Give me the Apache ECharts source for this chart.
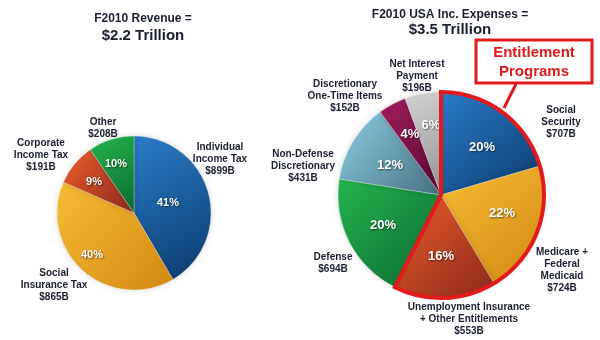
<!DOCTYPE html>
<html>
<head>
<meta charset="utf-8">
<script src="https://cdn.jsdelivr.net/npm/echarts@6/dist/echarts.min.js"></script>
<style>
html,body{margin:0;padding:0;background:#ffffff;}
#chart{width:600px;height:340px;}
</style>
</head>
<body>
<div id="chart"></div>
<script>
// ---- data ----
var revenueNames = ['Individual\nIncome Tax', 'Social\nInsurance Tax', 'Corporate\nIncome Tax', 'Other'];
var revenueValues = [899, 865, 191, 208];
var revenuePct = ['41%', '40%', '9%', '10%'];

var expenseNames = ['Social\nSecurity', 'Medicare +\nFederal\nMedicaid', 'Unemployment Insurance\n+ Other Entitlements', 'Defense', 'Non-Defense\nDiscretionary', 'Discretionary\nOne-Time Items', 'Net Interest\nPayment'];
var expenseValues = [707, 724, 553, 694, 431, 152, 196];
var expensePct = ['20%', '22%', '16%', '20%', '12%', '4%', '6%'];
var entitlementCount = 3; // first three expense slices are entitlement programs

var titles = ['F2010 Revenue =', '$2.2 Trillion', 'F2010 USA Inc. Expenses =', '$3.5 Trillion'];
var calloutText = 'Entitlement\nPrograms';

// ---- layout / styles ----
var leftCenter = [134, 213], leftR = 77;
var rightCenter = [441, 195], rightR = 103;
var revenueInnerPos = [[168, 203], [92, 255], [94, 182], [116, 164]];
var revenueOuterPos = [[220, 159], [54, 285], [41, 155], [103, 128]];
var expenseInnerPos = [[482, 147], [502, 213], [441, 256], [383, 225], [390, 165], [410, 134], [431, 125]];
var expenseOuterPos = [[561, 122], [562, 270], [469, 319], [333, 263], [303, 166], [345, 96], [417, 76]];

function grad(c1, c2) {
  return new echarts.graphic.LinearGradient(0, 0, 1, 1, [
    {offset: 0, color: c1}, {offset: 1, color: c2}
  ]);
}
var C = {
  blue: grad('#2a7cc8', '#0b3a6c'),
  gold: grad('#f7bd34', '#d28812'),
  red: grad('#ee5e2c', '#8a281b'),
  green: grad('#24b44e', '#0a6a30'),
  lblue: grad('#8ccfe4', '#476f80'),
  maroon: grad('#a21c5c', '#560a30'),
  gray: grad('#d2d2d2', '#929292')
};
var revenueColors = [C.blue, C.gold, C.red, C.green];
var expenseColors = [C.blue, C.gold, C.red, C.green, C.lblue, C.maroon, C.gray];

var textDark = '#1a1f2e';
var fontFam = '"Liberation Sans", Arial, sans-serif';

function buildData(names, values, colors) {
  return names.map(function (n, i) {
    return {name: n, value: values[i], itemStyle: {color: colors[i]}};
  });
}
function plainData(names, values) {
  return names.map(function (n, i) { return {name: n, value: values[i]}; });
}
function posLayout(arr) {
  return function (p) {
    return {x: arr[p.dataIndex][0], y: arr[p.dataIndex][1], align: 'center', verticalAlign: 'middle'};
  };
}

var innerLabel = function (pct, size) {
  return {
    show: true, position: 'inside', color: '#ffffff', fontWeight: 'bold', fontSize: size,
    fontFamily: fontFam, textShadowColor: 'rgba(0,0,0,0.55)', textShadowBlur: 2,
    textShadowOffsetX: 1, textShadowOffsetY: 1,
    formatter: function (p) { return pct[p.dataIndex]; }
  };
};
var outerLabel = {
  show: true, position: 'inside', color: textDark, fontWeight: 'bold', fontSize: 10,
  lineHeight: 12, fontFamily: fontFam, align: 'center', overflow: 'none',
  formatter: function (p) { return p.name + '\n$' + p.value + 'B'; }
};

var entSum = 0, restSum = 0;
expenseValues.forEach(function (v, i) { if (i < entitlementCount) entSum += v; else restSum += v; });

var option = {
  backgroundColor: '#ffffff',
  animation: false,
  title: [
    {text: titles[0], left: 138, top: 8, textAlign: 'center', textStyle: {fontSize: 12, fontWeight: 'bold', color: textDark, fontFamily: fontFam}},
    {text: titles[1], left: 138, top: 23, textAlign: 'center', textStyle: {fontSize: 15, fontWeight: 'bold', color: textDark, fontFamily: fontFam}},
    {text: titles[2], left: 445, top: 4, textAlign: 'center', textStyle: {fontSize: 12, fontWeight: 'bold', color: textDark, fontFamily: fontFam}},
    {text: titles[3], left: 445, top: 17, textAlign: 'center', textStyle: {fontSize: 15, fontWeight: 'bold', color: textDark, fontFamily: fontFam}}
  ],
  series: [
    {
      type: 'pie', center: leftCenter, radius: leftR, startAngle: 90, clockwise: true,
      silent: true, z: 2,
      data: buildData(revenueNames, revenueValues, revenueColors),
      itemStyle: {borderColor: 'rgba(255,255,255,0.6)', borderWidth: 0.5, shadowBlur: 6, shadowColor: 'rgba(0,0,0,0.15)'},
      label: innerLabel(revenuePct, 11),
      labelLine: {show: false},
      labelLayout: posLayout(revenueInnerPos)
    },
    {
      type: 'pie', center: leftCenter, radius: leftR, startAngle: 90, clockwise: true,
      silent: true, z: 3,
      data: plainData(revenueNames, revenueValues),
      itemStyle: {color: 'rgba(0,0,0,0)'},
      label: outerLabel,
      labelLine: {show: false},
      labelLayout: posLayout(revenueOuterPos)
    },
    {
      type: 'pie', center: rightCenter, radius: rightR, startAngle: 90, clockwise: true,
      silent: true, z: 2,
      data: buildData(expenseNames, expenseValues, expenseColors),
      itemStyle: {borderColor: 'rgba(255,255,255,0.6)', borderWidth: 0.5, shadowBlur: 6, shadowColor: 'rgba(0,0,0,0.15)'},
      label: innerLabel(expensePct, 13),
      labelLine: {show: false},
      labelLayout: posLayout(expenseInnerPos)
    },
    {
      type: 'pie', center: rightCenter, radius: rightR, startAngle: 90, clockwise: true,
      silent: true, z: 3,
      data: plainData(expenseNames, expenseValues),
      itemStyle: {color: 'rgba(0,0,0,0)'},
      label: outerLabel,
      labelLine: {show: false},
      labelLayout: posLayout(expenseOuterPos)
    },
    {
      type: 'pie', center: rightCenter, radius: rightR, startAngle: 90, clockwise: true,
      silent: true, z: 4,
      data: [
        {name: 'Entitlement Programs', value: entSum, itemStyle: {color: 'rgba(0,0,0,0)', borderColor: '#e3191b', borderWidth: 4, borderJoin: 'miter'}},
        {name: 'Other', value: restSum, itemStyle: {color: 'rgba(0,0,0,0)', borderWidth: 0}}
      ],
      label: {show: false},
      labelLine: {show: false}
    }
  ],
  graphic: [
    {type: 'line', z: 10, shape: {x1: 516, y1: 84, x2: 504, y2: 108}, style: {stroke: '#e3191b', lineWidth: 3}},
    {type: 'rect', z: 10, shape: {x: 476, y: 40, width: 116, height: 43}, style: {fill: '#ffffff', stroke: '#e3191b', lineWidth: 3}},
    {type: 'text', z: 11, x: 534, y: 62, style: {text: calloutText, fill: '#e3191b', font: 'bold 15px "Liberation Sans", Arial, sans-serif', align: 'center', verticalAlign: 'middle', lineHeight: 19}}
  ]
};

var chart = echarts.init(document.getElementById('chart'), null, {renderer: 'canvas'});
chart.setOption(option);
</script>
</body>
</html>
